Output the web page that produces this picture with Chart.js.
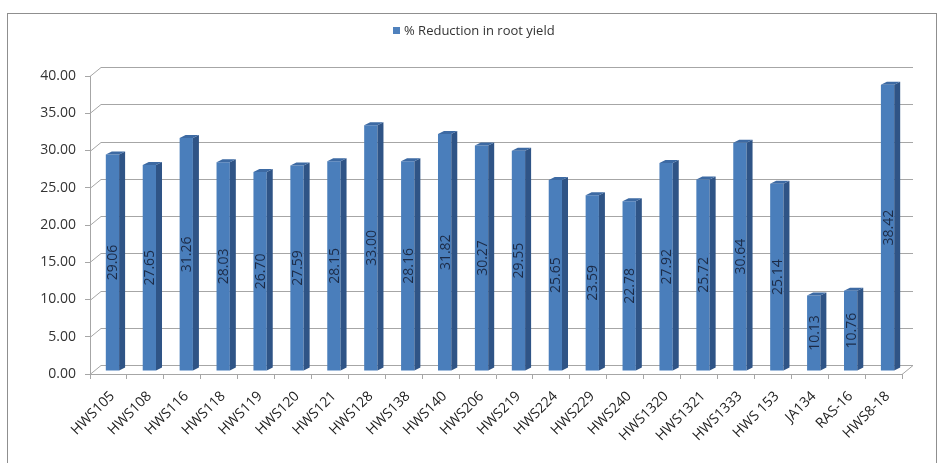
<!DOCTYPE html>
<html>
<head>
<meta charset="utf-8">
<script src="https://cdn.jsdelivr.net/npm/chart.js@4"></script>
<style>
  html, body { margin: 0; padding: 0; background: #fff; }
  #wrap { width: 940px; height: 463px; }
</style>
</head>
<body>
<div id="wrap"><canvas id="c" width="940" height="463"></canvas></div>
<script>
const genotypes = ['HWS105', 'HWS108', 'HWS116', 'HWS118', 'HWS119', 'HWS120', 'HWS121', 'HWS128',
    'HWS138', 'HWS140', 'HWS206', 'HWS219', 'HWS224', 'HWS229', 'HWS240', 'HWS1320', 'HWS1321',
    'HWS1333', 'HWS 153', 'JA134', 'RAS-16', 'HWS8-18'];
const reduction = [29.06, 27.65, 31.26, 28.03, 26.70, 27.59, 28.15, 33.00, 28.16, 31.82, 30.27,
    29.55, 25.65, 23.59, 22.78, 27.92, 25.72, 30.64, 25.14, 10.13, 10.76, 38.42];
const seriesName = '% Reduction in root yield';

const FONT = '"Open Sans", "Liberation Sans", sans-serif';
const DEPTH = { x: 11, y: -9 };     // back wall offset
const BAR_SHIFT = { x: 4, y: -3 };  // bars sit a little into the depth
const FACE = { x: 6, y: -3 };       // bar side/top face

// frame, legend and the 3d walls behind the bars
const wallPlugin = {
    id: 'walls',
    beforeDraw(chart) {
        const { ctx } = chart;
        ctx.save();
        ctx.fillStyle = '#fff';
        ctx.fillRect(0, 0, chart.width, chart.height);
        ctx.strokeStyle = '#8f8f8f';
        ctx.lineWidth = 1;
        ctx.strokeRect(7.5, 13.5, 929, 470);

        // legend
        ctx.fillStyle = '#4f81bd';
        ctx.fillRect(393, 27, 7, 7);
        ctx.fillStyle = '#333';
        ctx.font = '13px ' + FONT;
        ctx.textBaseline = 'middle';
        ctx.fillText(seriesName, 404, 31);
        ctx.restore();
    },
    beforeDatasetsDraw(chart) {
        const { ctx, chartArea: a, scales: { y } } = chart;
        ctx.save();
        ctx.strokeStyle = '#a6a6a6';
        ctx.lineWidth = 1;
        y.ticks.forEach(t => {
            const py = Math.round(y.getPixelForValue(t.value)) + 0.5;
            ctx.beginPath();
            ctx.moveTo(a.left, py);
            ctx.lineTo(a.left + DEPTH.x, py + DEPTH.y);
            ctx.lineTo(a.right + DEPTH.x, py + DEPTH.y);
            ctx.stroke();
        });
        // floor right edge
        ctx.beginPath();
        ctx.moveTo(a.right, a.bottom + 0.5);
        ctx.lineTo(a.right + DEPTH.x, a.bottom + 0.5 + DEPTH.y);
        ctx.stroke();
        ctx.restore();

        ctx.save();
        ctx.translate(BAR_SHIFT.x, BAR_SHIFT.y);
    },
    afterDatasetsDraw(chart) {
        const { ctx } = chart;
        const bars = chart.getDatasetMeta(0).data;

        bars.forEach((bar, i) => {
            const l = bar.x - bar.width / 2;
            const r = bar.x + bar.width / 2;
            const top = bar.y;
            const base = bar.base;

            ctx.fillStyle = '#2f5486';
            ctx.beginPath();
            ctx.moveTo(r, top);
            ctx.lineTo(r + FACE.x, top + FACE.y);
            ctx.lineTo(r + FACE.x, base + FACE.y);
            ctx.lineTo(r, base);
            ctx.closePath();
            ctx.fill();

            ctx.fillStyle = '#3d6aa3';
            ctx.beginPath();
            ctx.moveTo(l, top);
            ctx.lineTo(l + FACE.x, top + FACE.y);
            ctx.lineTo(r + FACE.x, top + FACE.y);
            ctx.lineTo(r, top);
            ctx.closePath();
            ctx.fill();

            ctx.save();
            ctx.translate(bar.x + 1, (top + base) / 2);
            ctx.rotate(-Math.PI / 2);
            ctx.font = '14px ' + FONT;
            ctx.fillStyle = '#1c2b47';
            ctx.textAlign = 'center';
            ctx.textBaseline = 'middle';
            ctx.fillText(reduction[i].toFixed(2), 0, 0);
            ctx.restore();
        });
        ctx.restore();
    }
};

new Chart(document.getElementById('c'), {
    type: 'bar',
    data: {
        labels: genotypes,
        datasets: [{
            label: seriesName,
            data: reduction,
            backgroundColor: '#4a7ebb',
            borderWidth: 0,
            barPercentage: 0.36,
            categoryPercentage: 1
        }]
    },
    options: {
        responsive: false,
        animation: false,
        layout: { padding: { left: 10, right: 38, top: 76, bottom: 0 } },
        scales: {
            y: {
                min: 0,
                max: 40,
                afterFit: s => { s.width = 80; },
                ticks: {
                    stepSize: 5,
                    padding: 9,
                    color: '#333',
                    font: { family: FONT, size: 14 },
                    callback: v => v.toFixed(2)
                },
                grid: { drawOnChartArea: false, tickLength: 5, color: '#a6a6a6' },
                border: { display: true, color: '#a6a6a6' }
            },
            x: {
                afterFit: s => { s.height = 89; },
                ticks: {
                    autoSkip: false,
                    minRotation: 45,
                    maxRotation: 45,
                    padding: 9,
                    labelOffset: 4,
                    color: '#222',
                    font: { family: FONT, size: 14 }
                },
                grid: { drawOnChartArea: false, offset: true, tickLength: 5, color: '#a6a6a6' },
                border: { display: true, color: '#a6a6a6' }
            }
        },
        plugins: {
            legend: { display: false },
            tooltip: { enabled: false }
        }
    },
    plugins: [wallPlugin]
});
</script>
</body>
</html>
